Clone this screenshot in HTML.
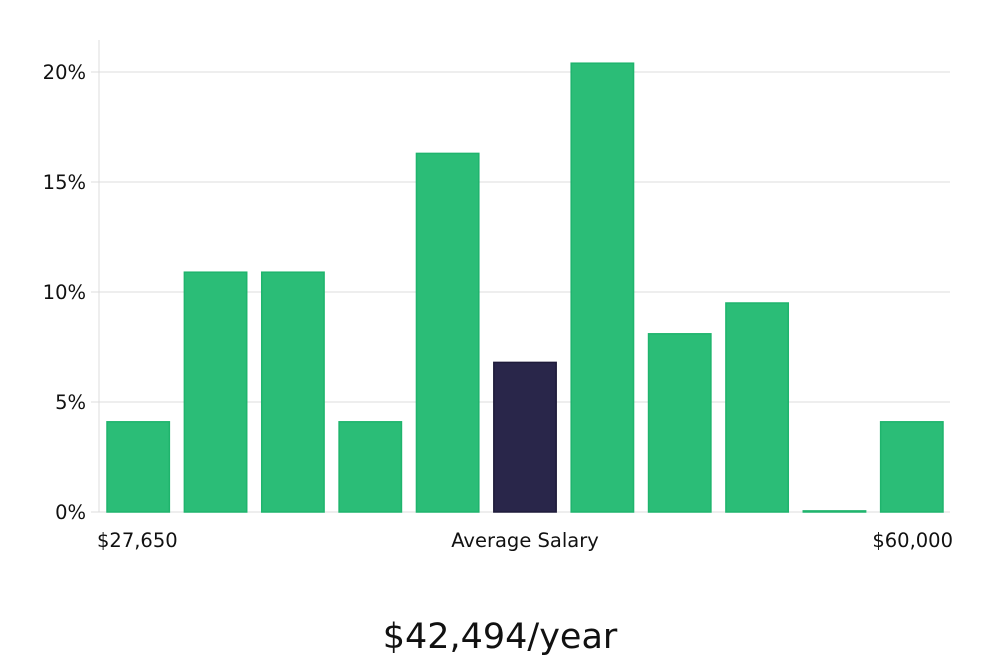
<!DOCTYPE html>
<html><head><meta charset="utf-8"><style>
body{margin:0;background:#fff;width:1000px;height:660px;overflow:hidden}
svg text{font-family:"DejaVu Sans","Liberation Sans",sans-serif}
</style></head><body>
<svg id="chart" width="1000" height="660">
<g id="grid"></g><g id="bars"></g>
<text x="97" y="547" font-size="19.5" fill="#111">$27,650</text>
<text x="525" y="547" font-size="19.5" fill="#111" text-anchor="middle">Average Salary</text>
<text x="953" y="547" font-size="19.5" fill="#111" text-anchor="end">$60,000</text>
<text x="500" y="648" font-size="35" fill="#111" text-anchor="middle" font-family="Liberation Sans, sans-serif">$42,494/year</text>
</svg>
<script>
const categories=["b1","b2","b3","b4","b5","b6","b7","b8","b9","b10","b11"];
const values=[4.1,10.9,10.9,4.1,16.3,6.8,20.4,8.1,9.5,0.05,4.1];
const highlightIndex=[5];
const yTicks=[0,5,10,15,20];
const yTickLabels=["0%","5%","10%","15%","20%"];
(function(){
const NS="http://www.w3.org/2000/svg";
const pLeft=99,pRight=950,pBottom=512,pTop=40;
const y=v=>pBottom-v*22;
const slot=(pRight-pLeft)/categories.length;
const x=i=>pLeft+i*slot;
const grid=document.getElementById('grid'),bars=document.getElementById('bars');
function mk(tag,attrs,parent){const e=document.createElementNS(NS,tag);for(const k in attrs)e.setAttribute(k,attrs[k]);parent.appendChild(e);return e;}
const ax=mk('line',{x1:pLeft,x2:pLeft,y1:pTop,y2:pBottom,stroke:'#ddd'},grid);


yTicks.forEach((t,i)=>{
 const g=mk('line',{x1:pLeft-8,x2:pRight,y1:y(t),y2:y(t),stroke:'#dcdcdc'},grid);
 
 
 const tx=mk('text',{x:pLeft-13,y:y(t)+7,'text-anchor':'end','font-size':19.5,fill:'#111'},grid);
 tx.textContent=yTickLabels[i];
 
 
});
values.forEach((v,i)=>{
 const hi=highlightIndex.includes(i);
 const r=mk('rect',{x:x(i)+8,y:y(v),width:slot-15,height:pBottom-y(v),fill:hi?'#29264a':'#2bbd77',stroke:hi?'#1e1b3a':'#1fb46d','stroke-width':1.5},bars);
 
 
});
})();
</script>
</body></html>
